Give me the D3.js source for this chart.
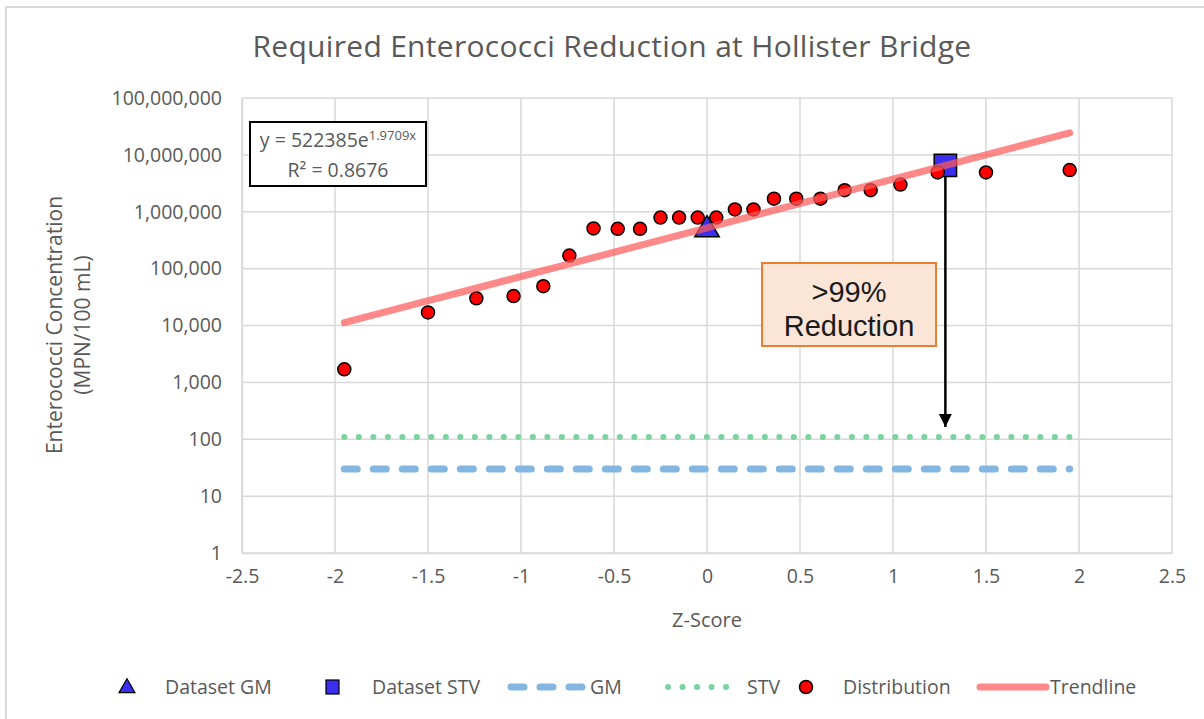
<!DOCTYPE html>
<html>
<head>
<meta charset="utf-8">
<script src="https://cdn.jsdelivr.net/npm/d3@7"></script>
<style>
  body { margin: 0; background: #fff; }
  text { font-family: "Open Sans", Lato, sans-serif; }
</style>
</head>
<body>
<div id="chart"></div>
<script>
// chart data
var zScores = [-1.95, -1.5, -1.24, -1.04, -0.88, -0.74, -0.61, -0.48, -0.36, -0.25, -0.15, -0.05,
               0.05, 0.15, 0.25, 0.36, 0.48, 0.61, 0.74, 0.88, 1.04, 1.24, 1.5, 1.95];
var concentrations = [1700, 17000, 30000, 33000, 49000, 170000, 510000, 500000, 500000, 790000, 790000, 790000,
                      790000, 1100000, 1100000, 1700000, 1700000, 1700000, 2400000, 2400000, 3000000, 4900000, 4900000, 5400000];
var datasetGM = [{z: 0, v: 522385}];
var datasetSTV = [{z: 1.2816, v: 6530000}];
var gmLimit = 30, stvLimit = 110;
var lineRange = [-1.95, 1.95];
var trendA = 522385, trendB = 1.9709;
var xTicks = [-2.5, -2, -1.5, -1, -0.5, 0, 0.5, 1, 1.5, 2, 2.5];
var yTicks = [1, 10, 100, 1000, 10000, 100000, 1000000, 10000000, 100000000];

var width = 1204, height = 719;
var grey = "#595959";

var svg = d3.select("#chart").append("svg")
    .attr("width", width)
    .attr("height", height);

// outer chart border
svg.append("rect")
    .attr("x", 6).attr("y", 7)
    .attr("width", width + 10).attr("height", height + 10)
    .attr("fill", "none")
    .attr("stroke", "#d9d9d9").attr("stroke-width", 2);

var x = d3.scaleLinear().domain([-2.5, 2.5]).range([242, 1172]);
var y = d3.scaleLog().domain([1, 1e8]).range([553, 98]);

// title
svg.append("text")
    .attr("x", 612).attr("y", 57)
    .attr("text-anchor", "middle")
    .attr("font-size", 30)
    .attr("letter-spacing", 0.3)
    .attr("fill", grey)
    .text("Required Enterococci Reduction at Hollister Bridge");

// gridlines
var grid = svg.append("g");
grid.selectAll(".vg").data(xTicks).enter().append("line")
    .attr("x1", d => x(d)).attr("x2", d => x(d))
    .attr("y1", y(1e8)).attr("y2", y(1))
    .attr("stroke", "#d9d9d9").attr("stroke-width", 1.5);
grid.selectAll(".hg").data(yTicks).enter().append("line")
    .attr("x1", x(-2.5)).attr("x2", x(2.5))
    .attr("y1", d => y(d)).attr("y2", d => y(d))
    .attr("stroke", "#d9d9d9").attr("stroke-width", 1.5);

// axes
var xAxis = svg.append("g")
    .attr("transform", "translate(0," + y(1) + ")")
    .call(d3.axisBottom(x).tickValues(xTicks).tickSize(0).tickPadding(16).tickFormat(d => String(d)));
var yAxis = svg.append("g")
    .attr("transform", "translate(" + x(-2.5) + ",0)")
    .call(d3.axisLeft(y).tickValues(yTicks).tickSize(0).tickPadding(20).tickFormat(d3.format(",")));
[xAxis, yAxis].forEach(function(a) {
  a.select(".domain").attr("stroke", "#d9d9d9").attr("stroke-width", 1.5);
  a.selectAll("text").attr("font-size", 19.5).attr("fill", grey).style("font-family", "'Open Sans', sans-serif");
});

// axis titles
svg.append("text")
    .attr("x", x(0)).attr("y", 627)
    .attr("text-anchor", "middle")
    .attr("font-size", 20).attr("fill", grey)
    .text("Z-Score");
var yt = svg.append("text")
    .attr("transform", "translate(62,325) rotate(-90)")
    .attr("text-anchor", "middle")
    .attr("font-size", 21).attr("fill", grey);
yt.append("tspan").attr("x", 0).attr("dy", 0).text("Enterococci Concentration");
yt.append("tspan").attr("x", 0).attr("dy", 28).text("(MPN/100 mL)");

// limit lines
svg.append("line")
    .attr("x1", x(lineRange[0])).attr("x2", x(lineRange[1]))
    .attr("y1", y(gmLimit)).attr("y2", y(gmLimit))
    .attr("stroke", "#83b6e0").attr("stroke-width", 7)
    .attr("stroke-linecap", "round").attr("stroke-dasharray", "13,16");
svg.append("line")
    .attr("x1", x(lineRange[0])).attr("x2", x(lineRange[1]))
    .attr("y1", y(stvLimit)).attr("y2", y(stvLimit))
    .attr("stroke", "#7dd3a0").attr("stroke-width", 6)
    .attr("stroke-linecap", "round").attr("stroke-dasharray", "0.1,14.4");

// reduction arrow
svg.append("defs").append("marker")
    .attr("id", "arrow")
    .attr("viewBox", "0 0 10 10")
    .attr("refX", 10).attr("refY", 5)
    .attr("markerWidth", 13).attr("markerHeight", 13)
    .attr("markerUnits", "userSpaceOnUse")
    .attr("orient", "auto")
    .append("path").attr("d", "M0,0 L10,5 L0,10 z").attr("fill", "#000");
svg.append("line")
    .attr("x1", x(datasetSTV[0].z)).attr("x2", x(datasetSTV[0].z))
    .attr("y1", y(datasetSTV[0].v)).attr("y2", y(stvLimit) - 10)
    .attr("stroke", "#000").attr("stroke-width", 2.5)
    .attr("marker-end", "url(#arrow)");

// reduction label
svg.append("rect")
    .attr("x", 762).attr("y", 263).attr("width", 174).attr("height", 83)
    .attr("fill", "#fbe5d6").attr("stroke", "#ed7d31").attr("stroke-width", 2);
svg.append("text")
    .attr("x", 849).attr("y", 302)
    .attr("text-anchor", "middle").attr("font-size", 29)
    .style("font-family", "'Liberation Sans', Arial, sans-serif")
    .attr("fill", "#1a1a1a").text(">99%");
svg.append("text")
    .attr("x", 849).attr("y", 336)
    .attr("text-anchor", "middle").attr("font-size", 29)
    .style("font-family", "'Liberation Sans', Arial, sans-serif")
    .attr("fill", "#1a1a1a").text("Reduction");

// markers
var symTri = d3.symbol().type(d3.symbolTriangle).size(260);
var symSq = d3.symbol().type(d3.symbolSquare).size(500);

svg.selectAll(".gm").data(datasetGM).enter().append("path")
    .attr("d", symTri)
    .attr("transform", d => "translate(" + x(d.z) + "," + (y(d.v) + 2) + ")")
    .attr("fill", "#3a2ff0").attr("stroke", "#000").attr("stroke-width", 1.5);
svg.selectAll(".stv").data(datasetSTV).enter().append("path")
    .attr("d", symSq)
    .attr("transform", d => "translate(" + x(d.z) + "," + y(d.v) + ")")
    .attr("fill", "#3a2ff0").attr("stroke", "#000").attr("stroke-width", 1.5);

svg.selectAll(".dist").data(zScores).enter().append("circle")
    .attr("cx", d => x(d))
    .attr("cy", (d, i) => y(concentrations[i]))
    .attr("r", 6.5)
    .attr("fill", "#ff0000").attr("stroke", "#000").attr("stroke-width", 1.5);

// trendline
var trendPts = d3.range(0, 41).map(i => lineRange[0] + i * (lineRange[1] - lineRange[0]) / 40);
svg.append("path")
    .datum(trendPts)
    .attr("d", d3.line().x(d => x(d)).y(d => y(trendA * Math.exp(trendB * d))))
    .attr("fill", "none")
    .attr("stroke", "#ff5a5a").attr("stroke-opacity", 0.72)
    .attr("stroke-width", 7).attr("stroke-linecap", "round");

// equation box
svg.append("rect")
    .attr("x", 250).attr("y", 122).attr("width", 176).attr("height", 64)
    .attr("fill", "#fff").attr("stroke", "#000").attr("stroke-width", 2);
var eq = svg.append("text")
    .attr("x", 338).attr("y", 147)
    .attr("text-anchor", "middle").attr("font-size", 19.5).attr("fill", grey);
eq.append("tspan").text("y = 522385e");
eq.append("tspan").attr("font-size", 13).attr("dy", -7).text("1.9709x");
svg.append("text")
    .attr("x", 338).attr("y", 177)
    .attr("text-anchor", "middle").attr("font-size", 19.5).attr("fill", grey)
    .text("R² = 0.8676");

// legend
var legend = svg.append("g").attr("transform", "translate(0,687)");
function legText(xp, t) {
  legend.append("text").attr("x", xp).attr("y", 7)
      .attr("font-size", 19.5).attr("fill", grey).text(t);
}
legend.append("path").attr("d", d3.symbol().type(d3.symbolTriangle).size(110))
    .attr("transform", "translate(127,1)")
    .attr("fill", "#3a2ff0").attr("stroke", "#000").attr("stroke-width", 1.2);
legText(165, "Dataset GM");
legend.append("rect").attr("x", 326).attr("y", -7).attr("width", 13).attr("height", 14)
    .attr("fill", "#3a2ff0").attr("stroke", "#000").attr("stroke-width", 1.2);
legText(372, "Dataset STV");
legend.append("line").attr("x1", 511).attr("x2", 585).attr("y1", 0).attr("y2", 0)
    .attr("stroke", "#83b6e0").attr("stroke-width", 7)
    .attr("stroke-linecap", "round").attr("stroke-dasharray", "13,16");
legText(590, "GM");
legend.append("line").attr("x1", 668).attr("x2", 740).attr("y1", 0).attr("y2", 0)
    .attr("stroke", "#7dd3a0").attr("stroke-width", 6)
    .attr("stroke-linecap", "round").attr("stroke-dasharray", "0.1,14.4");
legText(747, "STV");
legend.append("circle").attr("cx", 806).attr("cy", 0).attr("r", 6.5)
    .attr("fill", "#ff0000").attr("stroke", "#000").attr("stroke-width", 1.5);
legText(843, "Distribution");
legend.append("line").attr("x1", 980).attr("x2", 1046).attr("y1", 0).attr("y2", 0)
    .attr("stroke", "#ff5a5a").attr("stroke-opacity", 0.72)
    .attr("stroke-width", 7).attr("stroke-linecap", "round");
legText(1050, "Trendline");
</script>
</body>
</html>
